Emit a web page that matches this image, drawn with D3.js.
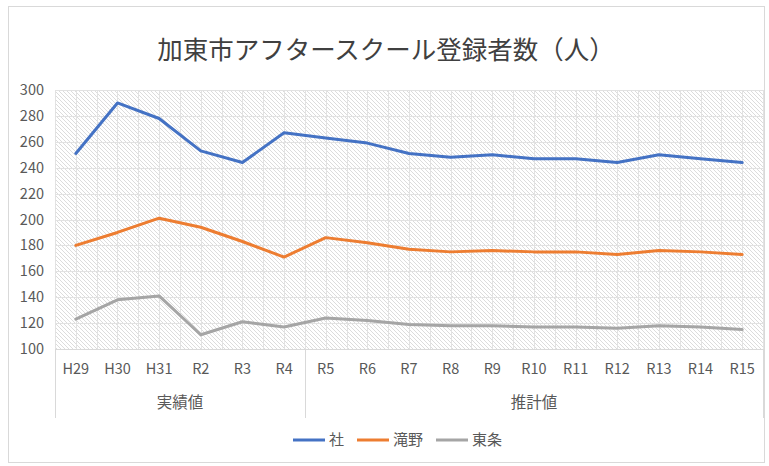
<!DOCTYPE html>
<html><head><meta charset="utf-8">
<script src="https://cdn.jsdelivr.net/npm/d3@7"></script>
<style>body{margin:0;background:#fff}svg{display:block}</style>
</head><body><svg id="c" width="769" height="466"></svg>
<script>
const categories = ["H29","H30","H31","R2","R3","R4","R5","R6","R7","R8","R9","R10","R11","R12","R13","R14","R15"];
const groups = [{label:"実績値", from:0, to:5},{label:"推計値", from:6, to:16}];
const seriesNames = ["社","滝野","東条"];
const shaValues = [251,290,278,253,244,267,263,259,251,248,250,247,247,244,250,247,244];
const takinoValues = [180,190,201,194,183,171,186,182,177,175,176,175,175,173,176,175,173];
const tojoValues = [123,138,141,111,121,117,124,122,119,118,118,117,117,116,118,117,115];
const yTicks = [100,120,140,160,180,200,220,240,260,280,300];
const colors = ["#4472C4","#ED7D31","#A5A5A5"];
const title = "加東市アフタースクール登録者数（人）";

const svg = d3.select("#c");
const font = "'Noto Sans CJK JP','Noto Sans',sans-serif";
const L=55, R=763, T=90, B=349;

svg.append("rect").attr("x",8.5).attr("y",6.5).attr("width",756).attr("height",456)
  .attr("fill","#fff").attr("stroke","#d9d9d9");

const defs = svg.append("defs");
const pat = defs.append("pattern").attr("id","hatch").attr("patternUnits","userSpaceOnUse")
  .attr("width",4).attr("height",4);
pat.append("rect").attr("width",4).attr("height",4).attr("fill","#fff");
pat.append("path").attr("d","M-1,-1 L5,5 M-1,3 L1,5 M3,-1 L5,1").attr("stroke","#dcdcdc").attr("stroke-width",1);

const x = d3.scaleBand().domain(categories).range([L,R]);
const y = d3.scaleLinear().domain([100,300]).range([B,T]);

svg.append("rect").attr("x",L).attr("y",T).attr("width",R-L).attr("height",B-T).attr("fill","url(#hatch)");

// gridlines
const g = svg.append("g");
yTicks.forEach(t=>{
  g.append("line").attr("x1",L).attr("x2",R).attr("y1",Math.round(y(t))+0.5).attr("y2",Math.round(y(t))+0.5)
   .attr("stroke","#e2e2e2").attr("stroke-width",1);
});
const vx = [];
categories.forEach(c=>{ vx.push(x(c)); vx.push(x(c)+x.bandwidth()/2); });
vx.push(R);
vx.forEach(v=>{
  g.append("line").attr("x1",Math.round(v)+0.5).attr("x2",Math.round(v)+0.5).attr("y1",T).attr("y2",B)
   .attr("stroke","#e2e2e2").attr("stroke-width",1);
});

// axis line
svg.append("line").attr("x1",L).attr("x2",R).attr("y1",B+0.5).attr("y2",B+0.5).attr("stroke","#d9d9d9");

// group separators
const sepX = [L, x(categories[6]), R];
sepX.forEach(v=>{
  svg.append("line").attr("x1",Math.round(v)+0.5).attr("x2",Math.round(v)+0.5).attr("y1",B).attr("y2",418)
    .attr("stroke","#d9d9d9");
});

// y labels
svg.append("g").selectAll("text").data(yTicks).join("text")
  .attr("x",44).attr("y",d=>y(d)).attr("dy","0.35em").attr("text-anchor","end")
  .attr("font-family",font).attr("font-size",14.5).attr("fill","#595959").text(d=>d);

// category labels
svg.append("g").selectAll("text").data(categories).join("text")
  .attr("x",d=>x(d)+x.bandwidth()/2).attr("y",369).attr("dy","0.35em").attr("text-anchor","middle")
  .attr("font-family",font).attr("font-size",14.5).attr("fill","#595959").text(d=>d);

// group labels
svg.append("g").selectAll("text").data(groups).join("text")
  .attr("x",d=>(x(categories[d.from]) + x(categories[d.to]) + x.bandwidth())/2)
  .attr("y",403).attr("dy","0.35em").attr("text-anchor","middle")
  .attr("font-family",font).attr("font-size",15.5).attr("fill","#595959").text(d=>d.label);

// lines
const all = [shaValues, takinoValues, tojoValues];
const line = d3.line().x((d,i)=>x(categories[i])+x.bandwidth()/2).y(d=>y(d));
all.forEach((vals,i)=>{
  svg.append("path").datum(vals).attr("d",line).attr("fill","none")
    .attr("stroke",colors[i]).attr("stroke-width",3).attr("stroke-linejoin","round").attr("stroke-linecap","round");
});

// title
svg.append("text").attr("x",386).attr("y",50).attr("dy","0.35em").attr("text-anchor","middle")
  .attr("font-family",font).attr("font-size",25.5).attr("fill","#404040").text(title);

// legend
const legX = [293, 357, 436];
const lg = svg.append("g");
seriesNames.forEach((n,i)=>{
  lg.append("line").attr("x1",legX[i]).attr("x2",legX[i]+32).attr("y1",440).attr("y2",440)
    .attr("stroke",colors[i]).attr("stroke-width",3);
  lg.append("text").attr("x",legX[i]+36).attr("y",440).attr("dy","0.35em")
    .attr("font-family",font).attr("font-size",15).attr("fill","#595959").text(n);
});
</script></body></html>
